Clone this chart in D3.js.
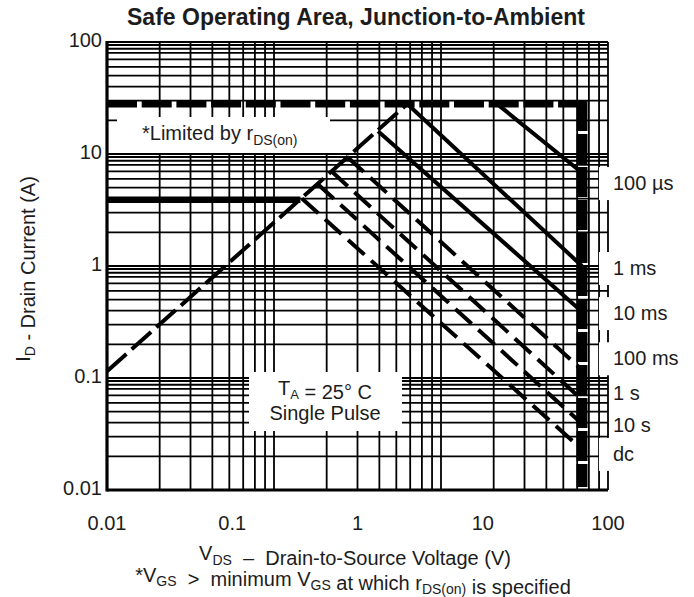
<!DOCTYPE html>
<html><head><meta charset="utf-8">
<script src="https://cdn.jsdelivr.net/npm/d3@7/dist/d3.min.js"></script>
<style>
body{margin:0;background:#fff;}
svg text{font-family:"Liberation Sans",Arial,Helvetica,sans-serif;fill:#1c1c1c;white-space:pre;}
</style></head><body>
<svg id="c" width="694" height="597"></svg>
<script>
// ---- data ----
const xTicks = [0.01, 0.1, 1, 10, 100];
const xTickLabels = ["0.01", "0.1", "1", "10", "100"];
const yTicks = [0.01, 0.1, 1, 10, 100];
const yTickLabels = ["0.01", "0.1", "1", "10", "100"];

const vdsMax = 62;            // thick vertical limit (V)
const idPulse = 28;           // top dashed limit (A)
const idCont = 3.9;           // continuous current (A)
const idContEndV = 0.35;
const rdsLine = [[0.01, 0.115], [2.5, 28]];   // limited by rDS(on)

const curveLabels = ["100 \u00b5s", "1 ms", "10 ms", "100 ms", "1 s", "10 s", "dc"];
const curveStartV = [13, 2.5, 1.46, 0.83, 0.62, 0.48, 0.36];
const curveStartI = [28, 28, 16, 9.4, 7.0, 5.4, 4.0];
const curveEndI   = [6.8, 1.0, 0.39, 0.118, 0.064, 0.039, 0.023];
const curveDashed = [false, false, false, true, true, true, true];
const labelI      = [5.5, 0.96, 0.38, 0.15, 0.074, 0.038, 0.021];
const labelBoxed  = [true, true, true, true, false, false, true];

// grid (as printed on the original sheet)
const gridXBases = [1, 9, 81];
const gridXSteps = [1, 2, 3, 4, 5, 6, 7, 8];
const gridYDecades = [0.01, 0.1, 1, 10];
const gridYSteps = [1, 2, 3, 4, 5, 6, 7, 8, 8.7, 9.4];

// ---- chart ----
const svg = d3.select("#c");
const L = 107, R = 608, T = 42, B = 490;
const x = d3.scaleLog().domain([0.01, 100]).range([L, R]);
const y = d3.scaleLog().domain([0.01, 100]).range([B, T]);
const gx = d3.scaleLog().domain([1, 729]).range([L, R]);

const gridV = [];
gridXBases.forEach(b => gridXSteps.forEach(k => gridV.push(b * k)));
gridV.push(729);
const gridH = [];
gridYDecades.forEach(d => gridYSteps.forEach(k => gridH.push(d * k)));
gridH.push(100);

const g = svg.append("g").attr("stroke", "#000").attr("stroke-width", 1.8);
g.selectAll("line.v").data(gridV).join("line")
  .attr("x1", d => gx(d)).attr("x2", d => gx(d)).attr("y1", T).attr("y2", B);
g.selectAll("line.h").data(gridH).join("line")
  .attr("x1", L).attr("x2", R).attr("y1", d => y(d)).attr("y2", d => y(d));

// white text boxes covering the grid
svg.append("rect").attr("x", 117).attr("y", 117).attr("width", 213).attr("height", 36).attr("fill", "#fff");
svg.append("rect").attr("x", 249).attr("y", 372).attr("width", 153).attr("height", 59).attr("fill", "#fff");
svg.selectAll("rect.lb").data(labelI.filter((d, i) => labelBoxed[i])).join("rect")
  .attr("x", 599).attr("y", d => y(d) - 16).attr("width", 95).attr("height", 33).attr("fill", "#fff");

// axes
svg.append("line").attr("x1", L).attr("x2", L).attr("y1", T - 1).attr("y2", B + 1.5)
  .attr("stroke", "#000").attr("stroke-width", 3.2);
svg.append("line").attr("x1", L).attr("x2", R).attr("y1", B).attr("y2", B)
  .attr("stroke", "#000").attr("stroke-width", 3);
svg.append("line").attr("x1", L).attr("x2", R).attr("y1", T).attr("y2", T)
  .attr("stroke", "#000").attr("stroke-width", 2.2);

const line = d3.line().x(d => x(d[0])).y(d => y(d[1]));

// continuous current line
svg.append("path").attr("d", line([[0.01, idCont], [idContEndV, idCont]]))
  .attr("stroke", "#000").attr("stroke-width", 6.5).attr("fill", "none");

// rDS(on) limit
svg.append("path").attr("d", line(rdsLine))
  .attr("stroke", "#000").attr("stroke-width", 4).attr("fill", "none")
  .attr("stroke-dasharray", "26,7");

// pulse curves
curveLabels.forEach((lab, i) => {
  svg.append("path")
    .attr("d", line([[curveStartV[i], curveStartI[i]], [vdsMax, curveEndI[i]]]))
    .attr("stroke", "#000").attr("stroke-width", 4).attr("fill", "none")
    .attr("stroke-dasharray", curveDashed[i] ? "22,9" : null);
});

// pulsed current limit (top dashed)
svg.append("path").attr("d", line([[0.01, idPulse], [vdsMax, idPulse]]))
  .attr("stroke", "#000").attr("stroke-width", 7).attr("fill", "none")
  .attr("stroke-dasharray", "30,4.7");

// VDS max bar
svg.append("path").attr("d", line([[vdsMax, idPulse], [vdsMax, 0.01]]))
  .attr("stroke", "#000").attr("stroke-width", 11).attr("fill", "none")
  .attr("stroke-dasharray", "30,3").attr("transform", "translate(0,-3)");

// tick labels
svg.selectAll("text.yt").data(yTicks).join("text")
  .attr("x", 102).attr("y", d => y(d) + 5).attr("text-anchor", "end")
  .attr("font-size", 20).text((d, i) => yTickLabels[i]);
svg.selectAll("text.xt").data(xTicks).join("text")
  .attr("x", d => x(d)).attr("y", 530).attr("text-anchor", "middle")
  .attr("font-size", 20).text((d, i) => xTickLabels[i]);

// curve labels
svg.selectAll("text.cl").data(curveLabels).join("text")
  .attr("x", 613).attr("y", (d, i) => y(labelI[i]) + 7)
  .attr("font-size", 20).text(d => d);

// title
svg.append("text").attr("x", 356).attr("y", 25).attr("text-anchor", "middle")
  .attr("font-size", 23).attr("font-weight", "bold").text("Safe Operating Area, Junction-to-Ambient");

// helper for subscripts
function rich(t, parts, sz, off) {
  parts.forEach(p => {
    if (p[1]) {
      t.append("tspan").attr("font-size", sz).attr("dy", off).text(p[0]);
      t.append("tspan").attr("dy", -off).text("");
    } else t.append("tspan").text(p[0]);
  });
}

// annotations
rich(svg.append("text").attr("x", 142).attr("y", 140).attr("font-size", 20),
  [["*Limited by r"], ["DS(on)", true]], 14, 5);
rich(svg.append("text").attr("x", 325).attr("y", 395).attr("text-anchor", "middle").attr("font-size", 20),
  [["T"], ["A", true], [" = 25\u00b0 C"]], 13, 4);
svg.append("text").attr("x", 325).attr("y", 420).attr("text-anchor", "middle").attr("font-size", 20).text("Single Pulse");

// axis titles
rich(svg.append("text").attr("x", 355).attr("y", 560).attr("text-anchor", "middle").attr("font-size", 20),
  [["V"], ["DS", true], ["  \u2013  Drain-to-Source Voltage (V)"]], 14, 5);
rich(svg.append("text").attr("x", 353).attr("y", 582).attr("text-anchor", "middle").attr("font-size", 20),
  [["*V"], ["GS", true], ["  >  minimum V"], ["GS", true], [" at which r"], ["DS(on)", true], [" is specified"]], 14, 4);
rich(svg.append("text").attr("transform", "translate(30,269) rotate(-90)").attr("text-anchor", "middle").attr("font-size", 20),
  [["I"], ["D", true], [" - Drain Current (A)"]], 14, 5);
</script>
</body></html>
